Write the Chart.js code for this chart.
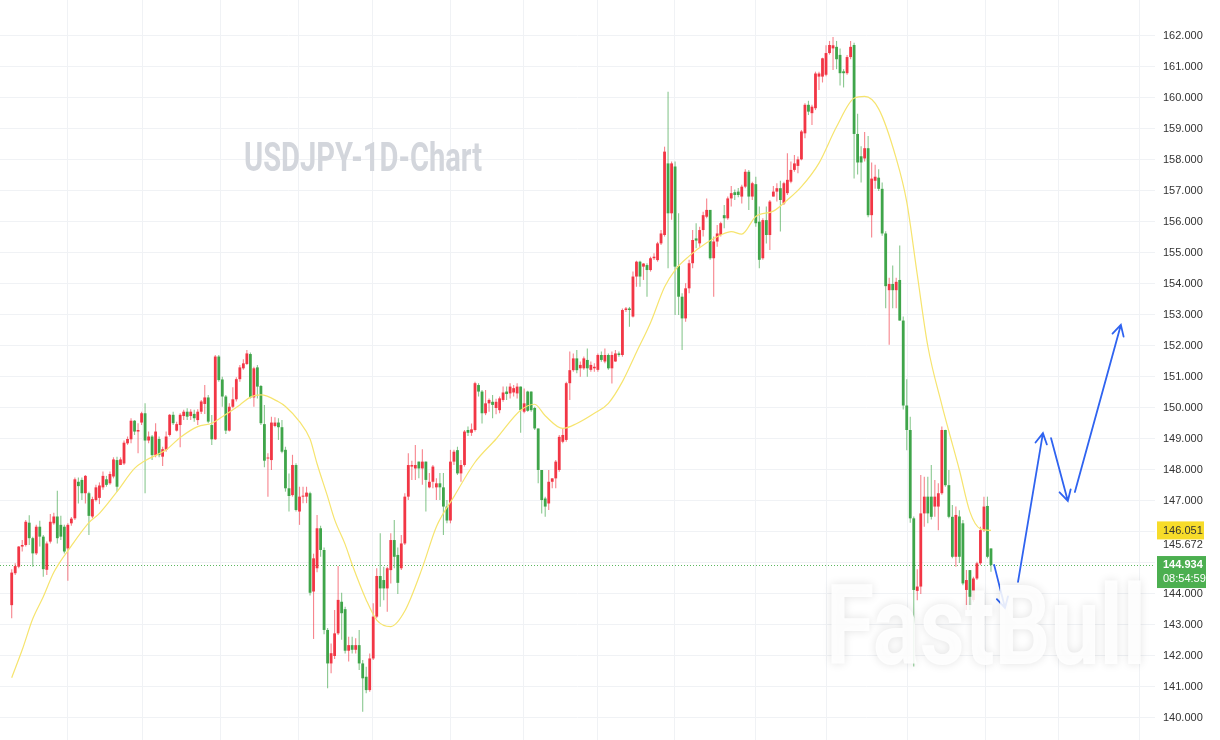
<!DOCTYPE html>
<html>
<head>
<meta charset="utf-8">
<script src="https://cdn.jsdelivr.net/npm/chart.js@4.4.1/dist/chart.umd.min.js"></script>
<style>
    html, body { margin: 0; padding: 0; background: #ffffff; }
    #wrap { width: 1220px; height: 740px; }
</style>
</head>
<body>
<div id="wrap"><canvas id="grafico" width="1220" height="740"></canvas></div>
<script>
// Velas diarias USDJPY (apertura, máximo, mínimo, cierre)
const opens = [
    143.64,144.67,144.88,145.53,145.58,146.30,145.80,145.31,146.17,145.85,144.78,145.69,146.28,146.50,146.23,146.17,145.47,146.28,146.44,147.62,
    147.68,147.25,147.25,146.50,147.03,147.10,147.44,147.70,147.57,147.79,148.32,148.16,148.21,148.86,148.99,149.59,149.24,149.53,149.83,148.95,
    149.08,148.48,149.00,148.43,148.65,149.13,149.78,149.27,149.45,149.74,149.88,149.74,149.81,149.61,149.88,150.13,150.34,149.45,148.99,151.66,
    150.92,150.37,149.27,150.04,150.28,150.93,151.28,151.42,151.74,150.34,151.31,150.71,149.48,148.37,148.32,149.42,149.53,149.38,148.65,147.41,
    147.19,148.16,146.66,147.14,147.14,147.25,144.08,144.83,146.12,145.42,142.84,141.76,142.00,142.73,143.75,143.51,142.17,142.35,142.20,142.35,
    141.76,141.33,140.90,141.92,143.27,144.58,144.45,144.18,144.77,145.74,145.26,144.83,145.63,147.14,148.11,148.05,148.27,148.05,148.27,147.44,
    147.62,147.44,147.57,147.44,146.82,146.37,148.27,148.64,147.89,148.16,149.29,149.20,149.29,150.74,150.53,149.83,150.15,150.20,150.00,149.93,
    150.26,150.53,150.47,150.50,150.47,150.69,149.88,150.53,150.53,150.00,149.34,148.00,147.08,146.92,147.62,147.73,148.00,148.91,148.97,150.80,
    151.22,151.60,151.28,151.28,151.55,151.23,151.28,151.23,151.71,151.50,151.71,151.28,151.50,151.76,151.71,153.16,153.21,152.95,154.24,154.72,
    154.56,154.61,154.45,154.83,154.77,155.31,155.58,157.89,156.28,157.79,154.58,153.59,152.89,153.86,154.67,155.47,155.31,155.74,156.17,156.39,
    154.83,155.37,155.58,156.22,156.12,156.76,156.96,156.98,156.82,157.14,157.62,156.82,157.22,156.01,154.83,156.06,155.58,156.82,156.98,157.09,
    156.60,156.93,157.30,157.68,157.81,158.02,158.86,159.78,159.51,159.67,160.69,160.69,160.75,161.45,161.60,161.65,161.39,160.86,160.80,161.32,
    161.71,158.84,158.12,158.05,158.38,156.22,157.33,157.43,157.07,155.63,153.80,154.00,153.80,154.13,152.82,150.08,149.29,146.44,144.10,144.24,
    146.60,147.14,147.14,146.82,146.82,147.25,149.29,147.51,146.49,145.20,146.50,146.28,144.13,144.77,143.81,144.50,144.99,146.06,146.84,145.47
];
const highs = [
    144.80,144.99,145.55,145.74,146.39,146.54,145.85,146.23,146.36,145.90,145.69,146.58,146.62,147.33,146.52,146.23,146.28,146.48,147.76,147.76,
    147.76,147.84,147.30,147.14,147.52,147.60,147.95,147.81,147.95,148.41,148.43,148.41,148.95,149.08,149.67,149.61,149.51,149.88,150.15,149.24,
    149.13,149.51,149.08,148.75,149.24,149.81,149.88,149.56,149.83,149.94,149.99,149.96,149.94,149.96,150.26,150.74,150.42,149.77,151.71,151.71,
    151.01,150.42,150.15,150.67,150.99,151.39,151.57,151.87,151.79,151.33,151.39,150.74,150.10,148.54,149.72,149.70,149.67,149.61,148.75,147.89,
    148.49,148.22,147.46,147.46,147.46,147.30,145.30,146.55,146.20,145.50,142.90,142.40,143.48,144.90,144.04,143.59,142.62,142.62,142.57,142.84,
    141.87,141.65,142.08,143.70,144.83,145.96,144.88,144.88,145.96,146.39,145.50,145.90,147.25,148.54,148.30,148.81,148.27,148.67,148.27,147.90,
    148.16,147.73,147.90,147.90,147.03,148.65,148.65,148.75,148.32,149.29,149.40,149.50,150.85,150.80,150.58,150.58,150.31,150.42,150.30,150.37,
    150.69,150.69,150.80,150.74,150.80,150.69,150.63,150.56,150.53,150.04,149.34,148.00,147.14,148.00,147.73,148.32,149.13,149.34,150.85,151.82,
    151.76,151.87,151.50,151.66,151.92,151.50,151.44,151.76,151.82,151.92,151.76,151.82,151.87,151.82,153.21,153.26,153.26,154.40,154.75,154.75,
    154.67,154.67,154.88,154.99,155.36,155.74,158.43,160.20,157.95,157.95,156.28,153.70,154.02,154.78,155.74,155.96,155.85,156.33,156.76,156.39,
    155.53,155.90,156.01,156.55,156.82,157.16,157.05,157.10,157.20,157.70,157.68,157.30,157.46,156.50,156.12,156.50,156.71,157.16,157.25,157.33,
    157.30,158.22,157.95,158.16,158.11,158.97,159.83,159.91,159.78,160.85,160.85,161.30,161.70,161.84,161.97,161.84,161.60,160.93,161.39,161.84,
    161.78,159.49,158.44,158.90,158.77,157.92,157.85,157.70,157.27,155.70,154.20,154.60,154.20,155.24,152.95,150.93,149.72,146.50,144.80,147.84,
    147.78,147.78,148.16,147.68,147.57,149.40,149.30,148.00,146.87,146.82,146.70,146.39,144.77,144.77,144.56,145.04,146.17,147.14,147.14,145.47
];
const lows = [
    143.22,144.61,144.83,145.37,145.53,145.58,144.88,145.26,145.53,144.56,144.61,145.63,146.23,145.63,145.74,145.31,144.43,146.20,146.39,146.92,
    147.03,146.92,145.90,146.44,146.98,146.90,147.36,147.46,147.52,147.73,147.30,148.16,148.16,148.81,148.86,149.13,148.54,149.45,147.25,148.86,
    148.32,148.41,148.41,148.13,148.59,149.08,149.45,149.24,148.73,149.61,149.61,149.61,149.56,149.45,149.81,149.81,149.51,148.81,148.97,150.85,
    150.04,149.16,149.24,149.99,150.21,150.85,151.23,151.39,150.31,150.04,150.31,149.45,148.09,147.14,148.00,149.38,148.97,148.54,147.30,146.66,
    147.14,146.66,146.23,146.93,146.93,143.95,142.55,144.70,145.20,142.70,140.96,141.44,141.90,142.68,142.52,142.08,141.82,142.08,142.08,141.55,
    140.20,140.80,140.85,141.87,143.22,143.59,143.80,143.43,144.34,144.83,144.00,144.77,145.58,147.03,147.68,147.68,147.73,147.52,146.66,147.41,
    147.41,147.03,147.03,145.90,146.28,146.28,148.16,147.84,147.62,148.11,149.10,149.10,149.24,150.37,149.50,149.77,149.88,149.67,149.80,149.83,
    150.20,150.26,150.31,150.37,150.31,149.20,149.83,149.88,149.88,149.29,147.57,146.60,146.49,146.71,147.41,147.41,147.94,148.86,148.91,150.26,
    151.17,151.12,151.01,151.23,151.01,151.17,151.17,151.17,151.49,151.44,151.23,150.79,151.49,151.65,151.65,153.10,152.62,152.92,153.91,153.91,
    154.13,153.59,154.40,154.77,154.72,155.26,155.53,154.51,156.07,153.00,153.00,151.87,152.78,153.70,154.51,155.15,155.20,155.53,156.12,154.78,
    153.59,155.20,155.53,155.80,156.07,156.50,156.71,156.80,156.60,157.09,156.39,156.71,155.85,154.51,154.78,155.31,155.10,156.82,156.66,155.69,
    156.55,156.87,157.25,157.62,157.57,157.99,158.70,159.45,159.13,159.61,160.26,160.50,160.70,161.40,160.90,160.93,160.40,160.34,160.75,161.25,
    157.40,157.53,157.27,157.95,156.15,155.50,157.07,157.00,155.56,153.22,152.04,153.22,153.22,152.82,149.95,148.64,146.30,141.66,143.80,144.00,
    146.17,146.28,146.40,146.49,146.06,147.20,147.46,146.44,145.15,144.88,145.00,144.28,143.48,143.48,143.75,144.45,144.93,146.00,145.15,144.72
];
const closes = [
    144.69,144.90,145.53,145.58,146.33,145.80,145.31,146.17,145.85,144.80,145.63,146.33,146.50,145.80,145.85,145.37,146.23,146.43,147.70,147.48,
    147.25,147.81,146.52,147.06,147.44,147.50,147.81,147.52,147.87,148.34,147.46,148.34,148.88,149.00,149.59,149.24,149.29,149.83,148.95,149.08,
    148.48,149.24,148.48,148.67,149.08,149.78,149.51,149.48,149.78,149.88,149.72,149.88,149.67,149.88,150.21,150.34,149.56,148.99,151.66,150.90,
    150.37,149.27,150.04,150.28,150.93,151.31,151.44,151.76,150.34,151.28,150.69,149.51,148.30,148.40,149.53,149.53,149.38,148.59,147.41,147.16,
    148.16,146.71,147.14,147.17,147.27,144.04,145.15,146.12,145.42,142.84,141.76,142.09,142.73,143.81,143.38,142.17,142.35,142.20,142.35,141.76,
    141.28,140.90,141.92,143.27,144.58,144.18,144.18,144.83,145.74,145.20,144.36,145.63,147.14,148.16,148.16,148.16,148.05,148.27,147.68,147.62,
    148.11,147.57,147.44,146.82,146.37,148.27,148.59,147.89,148.16,149.24,149.20,149.31,150.80,150.53,149.83,150.15,150.26,150.10,150.20,150.31,
    150.50,150.45,150.69,150.64,150.69,149.93,150.15,149.91,149.93,149.34,148.00,147.03,146.82,147.62,147.73,148.27,149.07,149.13,150.80,151.22,
    151.60,151.22,151.39,151.60,151.28,151.39,151.33,151.71,151.55,151.71,151.28,151.71,151.76,151.71,153.16,153.21,153.16,154.24,154.72,154.24,
    154.66,154.45,154.83,154.88,155.31,155.63,158.27,156.28,157.89,154.56,153.59,152.89,153.86,154.67,155.42,155.40,155.74,156.22,156.39,154.83,
    155.37,155.63,155.96,156.12,156.76,156.93,156.87,156.87,157.14,157.62,156.82,157.25,155.96,154.78,156.06,155.58,156.66,156.98,157.09,156.71,
    157.25,157.36,157.68,157.89,158.02,158.92,159.78,159.56,159.72,160.79,160.79,161.28,161.45,161.71,161.70,161.25,160.80,160.80,161.32,161.65,
    158.84,157.92,157.92,158.38,156.22,157.40,157.46,157.07,155.63,153.93,154.00,153.80,154.07,152.82,150.08,149.29,146.44,144.13,144.24,146.60,
    147.14,146.60,146.49,147.14,147.25,149.29,147.51,146.49,145.20,146.55,145.20,144.34,144.45,143.91,144.50,144.99,146.06,146.82,145.20,144.934
];

// Media móvil (índice de vela y valor)
const maIdx = [0,3,6,9,12,17,22,25,30,35,38,44,48,53,57,60,65,68,71,76,78,82,85,87,90,92,95,97,101,104,
    108,112,117,121,126,132,138,145,149,152,157,161,166,170,174,178,182,186,189,193,198,202,205,208,212,217,221,225,230,235,
    240,243,247,252,255,258,261,265,267,270,273,276,279];
const maVal = [141.3,142.2,143.2,143.91,144.7,145.55,146.3,146.6,147.3,148.05,148.3,148.65,149.05,149.4,149.51,149.72,150.1,150.35,150.42,150.2,
    150.05,149.56,149.0,148.2,147.14,146.4,145.6,144.95,143.81,143.16,142.95,143.45,144.85,146.17,147.14,148.25,149.0,149.93,150.12,149.75,
    149.34,149.5,149.83,150.15,150.85,151.8,152.75,153.9,154.45,154.9,155.33,155.58,155.69,155.61,156.18,156.35,156.71,157.14,157.9,159.07,
    159.99,160.05,159.65,158.05,156.65,154.3,152.0,150.1,149.25,148.0,146.65,146.1,146.051];

// Marcas del eje
const priceTicks = [140,141,142,143,144,145,146,147,148,149,150,151,152,153,154,155,156,157,158,159,160,161,162];
const hiddenTicks = [145, 146];
const monthTicks = [16, 37.4, 59.6, 81.6, 102.7, 124.9, 145.7, 166.8, 188.7, 211.8, 232, 255.1, 277.3, 298.1, 321.2];

// Etiquetas de precio
const maLast = 146.051;
const markPrice = 145.672;
const lastPrice = 144.934;
const countdown = '08:54:59';
const chartTitle = 'USDJPY-1D-Chart';
const brand = 'FastBull';

// Flechas de proyección: [vela inicio, precio inicio, vela fin, precio fin]
const arrows = [
    [279.9, 144.94, 283.0, 143.55],
    [286.7, 144.39, 293.8, 149.19],
    [296.1, 149.03, 300.9, 147.00],
    [302.9, 147.29, 316.0, 152.68]
];

const UP = '#f23645';
const DOWN = '#3fa54a';
const UP_WICK = 'rgba(242, 54, 69, 0.6)';
const DOWN_WICK = 'rgba(63, 165, 74, 0.6)';

const isUp = opens.map((o, i) => closes[i] >= o);
const bodyData = opens.map((o, i) => ({ x: i, y: [o, closes[i]] }));
const wickData = opens.map((o, i) => ({ x: i, y: [lows[i], highs[i]] }));
const maData = maIdx.map((v, k) => ({ x: v, y: maVal[k] }));

const extras = {
    id: 'extras',
    beforeDatasetsDraw(chart) {
        const { ctx, chartArea } = chart;
        const ys = chart.scales.y;

        // Título de fondo
        ctx.save();
        ctx.font = 'bold 40px Roboto';
        const w = ctx.measureText(chartTitle).width;
        ctx.translate(244, 171);
        ctx.scale(238 / w, 1);
        ctx.fillStyle = '#d3d6dc';
        ctx.fillText(chartTitle, 0, 0);
        ctx.restore();

        // Línea punteada del último precio
        const yl = Math.round(ys.getPixelForValue(lastPrice)) + 0.5;
        ctx.save();
        ctx.strokeStyle = '#5cb85f';
        ctx.lineWidth = 1;
        ctx.setLineDash([1, 2]);
        ctx.beginPath();
        ctx.moveTo(chartArea.left, yl);
        ctx.lineTo(chartArea.right, yl);
        ctx.stroke();
        ctx.restore();
    },
    afterDraw(chart) {
        const { ctx, chartArea } = chart;
        const xs = chart.scales.x;
        const ys = chart.scales.y;

        // Flechas azules
        ctx.save();
        ctx.strokeStyle = '#2f63f0';
        ctx.lineWidth = 1.8;
        ctx.lineCap = 'round';
        arrows.forEach(a => {
            const x0 = xs.getPixelForValue(a[0]), y0 = ys.getPixelForValue(a[1]);
            const x1 = xs.getPixelForValue(a[2]), y1 = ys.getPixelForValue(a[3]);
            const ang = Math.atan2(y1 - y0, x1 - x0);
            const len = 12, spread = 0.5;
            ctx.beginPath();
            ctx.moveTo(x0, y0);
            ctx.lineTo(x1, y1);
            ctx.moveTo(x1 - len * Math.cos(ang - spread), y1 - len * Math.sin(ang - spread));
            ctx.lineTo(x1, y1);
            ctx.lineTo(x1 - len * Math.cos(ang + spread), y1 - len * Math.sin(ang + spread));
            ctx.stroke();
        });
        ctx.restore();

        // Marca de agua FastBull
        ctx.save();
        ctx.font = 'bold 112px Roboto';
        const bw = ctx.measureText(brand).width;
        ctx.translate(826, 664);
        ctx.scale(320 / bw, 1);
        ctx.shadowColor = 'rgba(0, 0, 0, 0.13)';
        ctx.shadowBlur = 10;
        ctx.fillStyle = 'rgba(255, 255, 255, 0.88)';
        ctx.fillText(brand, 0, 0);
        ctx.restore();

        // Etiquetas a la derecha
        const left = chartArea.right + 2;
        ctx.save();
        ctx.font = '11px "Liberation Sans"';
        ctx.textBaseline = 'middle';

        const yMa = ys.getPixelForValue(maLast);
        ctx.fillStyle = '#f7dc2a';
        ctx.fillRect(left, yMa - 9, 47, 18);
        ctx.fillStyle = '#333333';
        ctx.fillText(maLast.toFixed(3), left + 6, yMa + 1);

        const yMark = ys.getPixelForValue(markPrice);
        ctx.fillStyle = '#333333';
        ctx.fillText(markPrice.toFixed(3), left + 6, yMark + 3);

        const yLast = ys.getPixelForValue(lastPrice);
        ctx.fillStyle = '#4caf50';
        ctx.fillRect(left, yLast - 9, 49, 32);
        ctx.fillStyle = '#ffffff';
        ctx.font = 'bold 11px "Liberation Sans"';
        ctx.fillText(lastPrice.toFixed(3), left + 6, yLast);
        ctx.font = '11px "Liberation Sans"';
        ctx.fillText(countdown, left + 6, yLast + 14);
        ctx.restore();
    }
};

const config = {
    type: 'bar',
    data: {
        datasets: [
            {
                type: 'line',
                data: maData,
                borderColor: '#f6e46e',
                borderWidth: 1.2,
                pointRadius: 0,
                tension: 0.4,
                cubicInterpolationMode: 'monotone',
                order: 0
            },
            {
                data: bodyData,
                backgroundColor: isUp.map(u => u ? UP : DOWN),
                grouped: false,
                categoryPercentage: 1,
                barPercentage: 0.8,
                minBarLength: 1,
                order: 1
            },
            {
                data: wickData,
                backgroundColor: isUp.map(u => u ? UP_WICK : DOWN_WICK),
                grouped: false,
                categoryPercentage: 1,
                barPercentage: 0.32,
                order: 2
            }
        ]
    },
    options: {
        responsive: false,
        animation: false,
        events: [],
        layout: { padding: 0 },
        plugins: {
            legend: { display: false },
            tooltip: { enabled: false }
        },
        scales: {
            x: {
                type: 'linear',
                min: -3.333,
                max: 325.73,
                offset: false,
                grid: { color: '#f0f2f5', offset: false, drawTicks: false },
                border: { display: false },
                ticks: { display: false },
                afterBuildTicks: s => { s.ticks = monthTicks.map(v => ({ value: v })); },
                afterFit: s => { s.height = 0; s.paddingLeft = 0; s.paddingRight = 0; }
            },
            y: {
                position: 'right',
                min: 139.29,
                max: 163.161,
                beginAtZero: false,
                grid: { color: '#f0f2f5', drawTicks: false },
                border: { display: false },
                ticks: {
                    padding: 8,
                    color: '#333333',
                    font: { family: 'Liberation Sans', size: 11 },
                    callback: v => hiddenTicks.includes(v) ? '' : v.toFixed(3)
                },
                afterBuildTicks: s => { s.ticks = priceTicks.map(v => ({ value: v })); },
                afterFit: s => { s.width = 65; s.paddingTop = 0; s.paddingBottom = 0; }
            }
        }
    },
    plugins: [extras]
};

new Chart(document.getElementById('grafico'), config);
</script>
</body>
</html>
